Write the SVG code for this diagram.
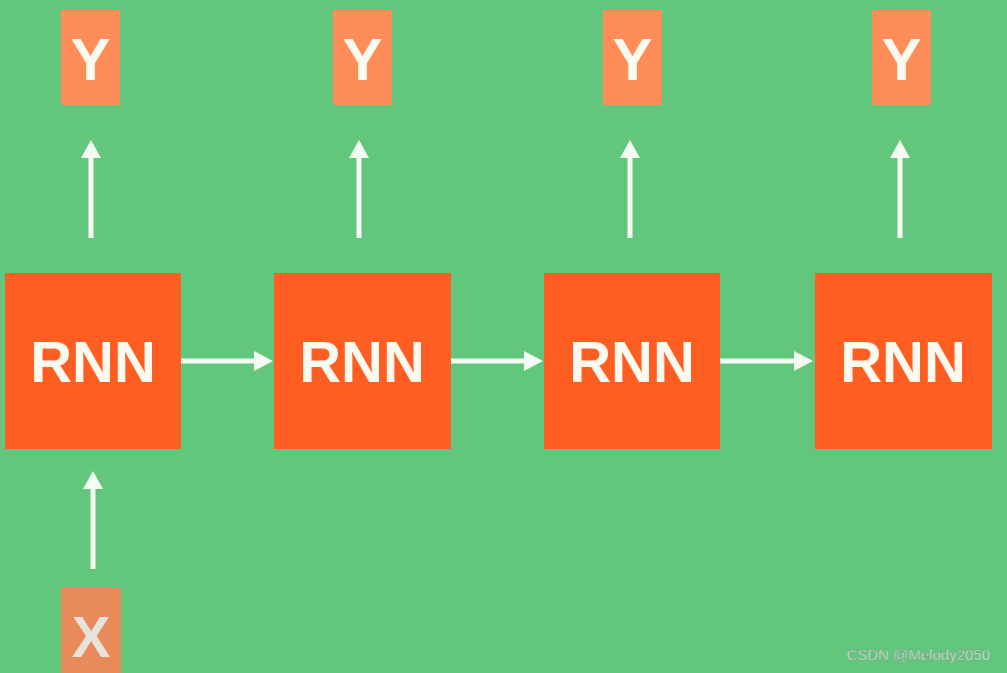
<svg xmlns="http://www.w3.org/2000/svg" width="1007" height="673" viewBox="0 0 1007 673">
<defs>
<style>
.rnn{fill:#ff5e22;}
.yb{fill:#fe8d58;}
.xb{fill:#e98a5a;}
.lbl{font-family:"Liberation Sans",Arial,sans-serif;font-weight:bold;fill:#fffaf0;text-anchor:middle;}
.conn line{stroke:#f4fbf2;stroke-width:5;}
.conn polygon{fill:#f4fbf2;}
</style>
</defs>
<rect x="0" y="0" width="1007" height="673" fill="#62c67d"/>
<g id="y1"><rect class="yb" x="61" y="10" width="59" height="95"/><text class="lbl" x="90.5" y="80" font-size="60">Y</text></g>
<g id="y2"><rect class="yb" x="333" y="10" width="59" height="95"/><text class="lbl" x="362.5" y="80" font-size="60">Y</text></g>
<g id="y3"><rect class="yb" x="603" y="10" width="59" height="95"/><text class="lbl" x="632.5" y="80" font-size="60">Y</text></g>
<g id="y4"><rect class="yb" x="872" y="10" width="59" height="95"/><text class="lbl" x="901.5" y="80" font-size="60">Y</text></g>
<g id="rnn1"><rect class="rnn" x="5" y="273" width="176" height="176"/><text class="lbl" x="93" y="382" font-size="58">RNN</text></g>
<g id="rnn2"><rect class="rnn" x="274" y="273" width="177" height="176"/><text class="lbl" x="362" y="382" font-size="58">RNN</text></g>
<g id="rnn3"><rect class="rnn" x="544" y="273" width="176" height="176"/><text class="lbl" x="632" y="382" font-size="58">RNN</text></g>
<g id="rnn4"><rect class="rnn" x="815" y="273" width="177" height="176"/><text class="lbl" x="903" y="382" font-size="58">RNN</text></g>
<g id="x1"><rect class="xb" x="61" y="588" width="60" height="90"/><text class="lbl" x="91" y="657" font-size="58" style="fill:#e6e2dc">X</text></g>
<g id="connectors" class="conn">
<line x1="91" y1="238" x2="91" y2="156"/><polygon points="81,158 91,140 101,158"/>
<line x1="359" y1="238" x2="359" y2="156"/><polygon points="349,158 359,140 369,158"/>
<line x1="630" y1="238" x2="630" y2="156"/><polygon points="620,158 630,140 640,158"/>
<line x1="900" y1="238" x2="900" y2="156"/><polygon points="890,158 900,140 910,158"/>
<line x1="93" y1="569" x2="93" y2="487"/><polygon points="83,489 93,471 103,489"/>
<line x1="181" y1="361" x2="256" y2="361"/><polygon points="254,351 273,361 254,371"/>
<line x1="451" y1="361" x2="526" y2="361"/><polygon points="524,351 543,361 524,371"/>
<line x1="720" y1="361" x2="796" y2="361"/><polygon points="794,351 813,361 794,371"/>
</g>
<text x="990" y="660" font-family="Liberation Sans,Arial,sans-serif" font-size="15" fill="#dde8dc" text-anchor="end" stroke="#6c8a70" stroke-width="0.3">CSDN @Melody2050</text>
</svg>
